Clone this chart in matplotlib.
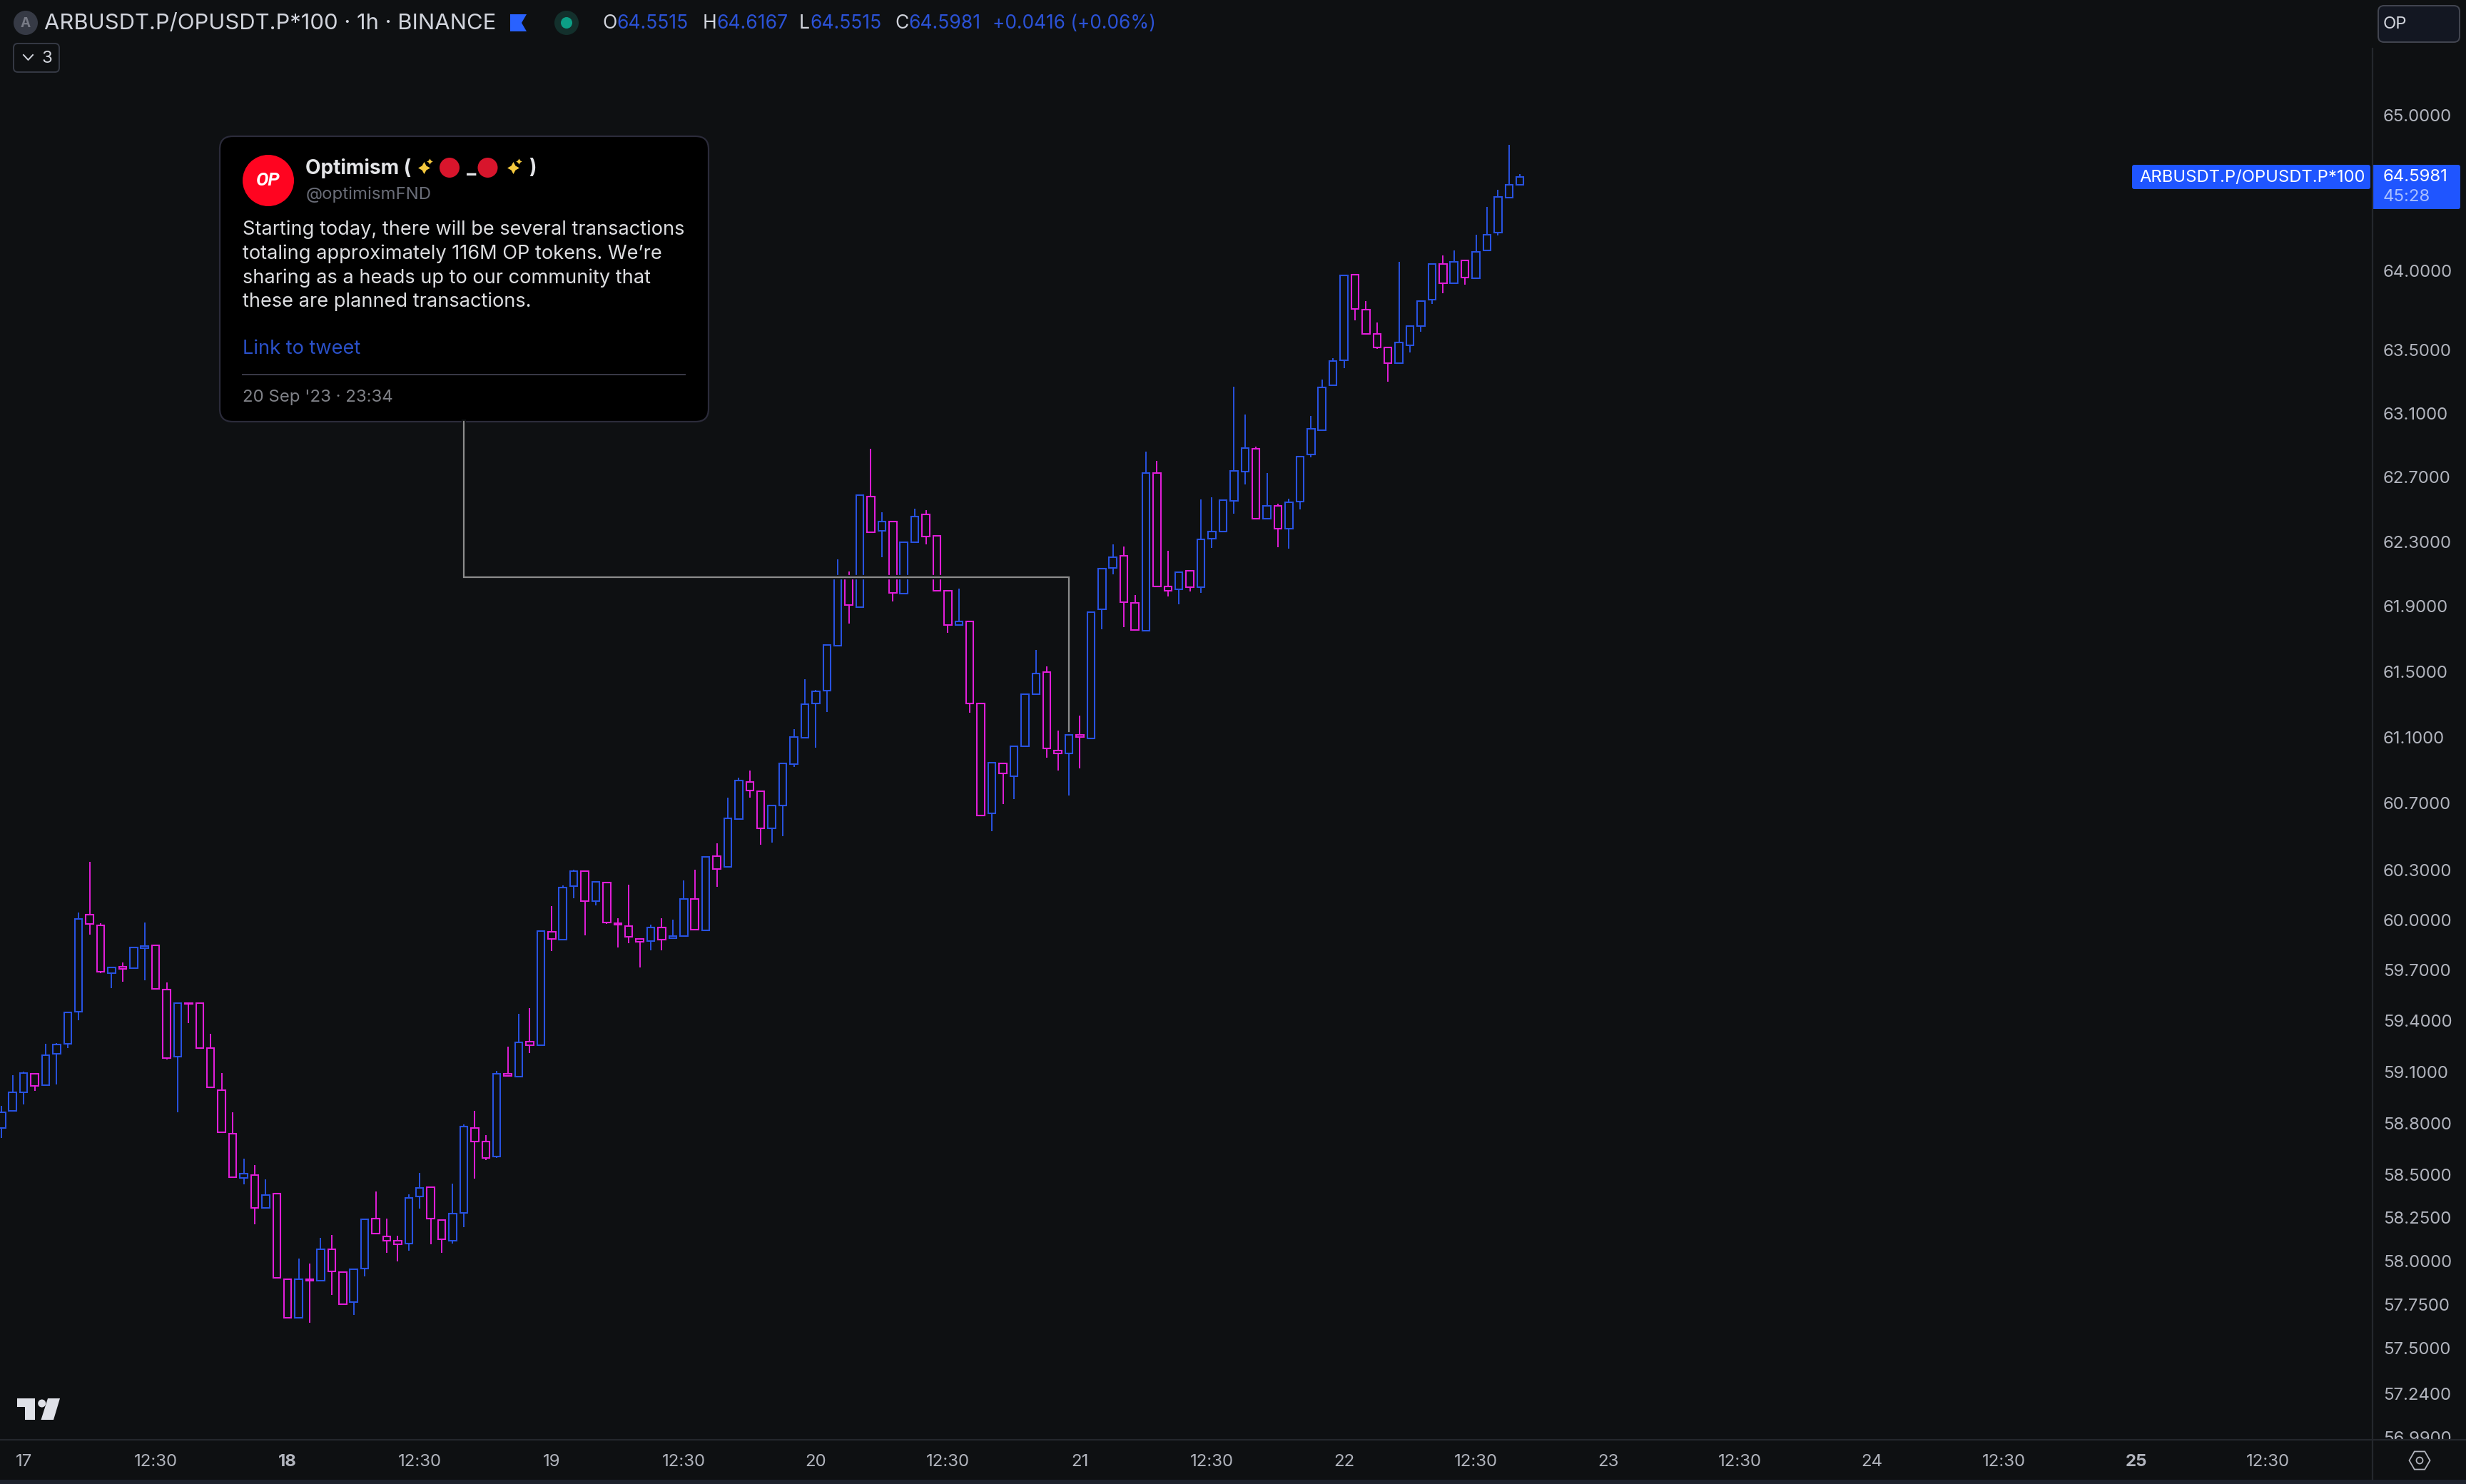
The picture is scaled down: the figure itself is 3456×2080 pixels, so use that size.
import matplotlib
matplotlib.use('Agg')
import matplotlib.pyplot as plt
from matplotlib.patches import Circle, FancyBboxPatch, Polygon, Rectangle
from matplotlib.ticker import NullLocator
import numpy as np

plt.rcParams['font.family'] = ['Inter', 'DejaVu Sans']

# 1h candles, first one is 16 Sep 22:00
opens = [58.772, 58.870, 58.980, 59.090, 59.022, 59.206, 59.265, 59.456, 60.029, 59.968,
         59.684, 59.722, 59.712, 59.830, 59.848, 59.587, 59.190, 59.506, 59.506, 59.240,
         58.994, 58.738, 58.480, 58.497, 58.304, 58.387, 57.892, 57.674, 57.892, 57.886,
         58.065, 57.933, 57.761, 57.956, 58.246, 58.141, 58.114, 58.100, 58.373, 58.427,
         58.236, 58.118, 58.278, 58.772, 58.693, 58.605, 59.090, 59.072, 59.279, 59.257,
         59.929, 59.882, 60.201, 60.293, 60.110, 60.224, 59.978, 59.963, 59.888, 59.872,
         59.955, 59.889, 59.903, 60.126, 59.936, 60.383, 60.315, 60.603, 60.829, 60.774,
         60.547, 60.688, 60.938, 61.095, 61.303, 61.383, 61.658, 62.085, 61.896, 62.580,
         62.366, 62.423, 61.977, 62.295, 62.467, 62.335, 61.994, 61.784, 61.808, 61.306,
         60.638, 60.942, 60.862, 61.044, 61.361, 61.498, 61.020, 61.001, 61.113, 61.091,
         61.884, 62.137, 62.214, 61.922, 61.752, 62.727, 62.023, 62.003, 62.120, 62.020,
         62.316, 62.361, 62.552, 62.733, 62.879, 62.440, 62.523, 62.379, 62.548, 62.843,
         62.992, 63.275, 63.431, 63.975, 63.755, 63.601, 63.515, 63.413, 63.530, 63.648,
         63.816, 64.043, 63.923, 64.067, 63.955, 64.128, 64.246, 64.468, 64.5515]
highs = [58.900, 59.082, 59.100, 59.090, 59.265, 59.271, 59.450, 60.043, 60.346, 59.980,
         59.716, 59.745, 59.836, 59.984, 59.848, 59.626, 59.506, 59.506, 59.506, 59.322,
         59.092, 58.863, 58.591, 58.553, 58.470, 58.387, 57.892, 58.015, 57.986, 58.134,
         58.151, 57.933, 57.952, 58.238, 58.401, 58.242, 58.143, 58.383, 58.507, 58.427,
         58.236, 58.446, 58.794, 58.870, 58.728, 59.104, 59.250, 59.440, 59.474, 59.939,
         60.084, 60.208, 60.299, 60.293, 60.228, 60.224, 60.008, 60.210, 59.888, 59.973,
         60.008, 60.000, 60.234, 60.302, 60.379, 60.457, 60.733, 60.856, 60.896, 60.774,
         60.687, 60.941, 61.150, 61.451, 61.386, 61.663, 62.191, 62.114, 62.590, 62.876,
         62.480, 62.423, 62.297, 62.506, 62.493, 62.340, 61.994, 62.010, 61.808, 61.306,
         60.947, 60.942, 61.046, 61.362, 61.630, 61.530, 61.139, 61.115, 61.231, 61.865,
         62.134, 62.282, 62.268, 61.969, 62.859, 62.804, 62.243, 62.112, 62.120, 62.560,
         62.573, 62.558, 63.265, 63.090, 62.889, 62.724, 62.533, 62.564, 62.828, 63.081,
         63.314, 63.445, 63.972, 63.975, 63.806, 63.670, 63.515, 64.057, 63.651, 63.808,
         64.045, 64.096, 64.132, 64.067, 64.228, 64.406, 64.520, 64.809, 64.6167]
lows = [58.714, 58.866, 58.908, 58.988, 59.022, 59.024, 59.238, 59.405, 59.913, 59.682,
        59.593, 59.630, 59.712, 59.640, 59.591, 59.172, 58.864, 59.389, 59.240, 59.010,
        58.746, 58.486, 58.442, 58.210, 58.304, 57.900, 57.674, 57.674, 57.643, 57.886,
        57.804, 57.745, 57.688, 57.909, 58.157, 58.045, 57.996, 58.057, 58.302, 58.096,
        58.045, 58.098, 58.193, 58.474, 58.583, 58.595, 59.076, 59.072, 59.212, 59.257,
        59.816, 59.882, 60.131, 59.908, 60.088, 59.977, 59.837, 59.862, 59.717, 59.820,
        59.817, 59.889, 59.903, 59.940, 59.936, 60.199, 60.315, 60.603, 60.734, 60.450,
        60.464, 60.502, 60.920, 61.095, 61.037, 61.254, 61.658, 61.792, 61.896, 62.357,
        62.201, 61.932, 61.977, 62.295, 62.284, 61.995, 61.739, 61.784, 61.247, 60.627,
        60.530, 60.696, 60.724, 61.044, 61.361, 60.977, 60.899, 60.746, 60.912, 61.091,
        61.761, 62.099, 61.774, 61.753, 61.744, 62.021, 61.963, 61.914, 61.990, 61.984,
        62.262, 62.361, 62.474, 62.656, 62.444, 62.440, 62.266, 62.257, 62.501, 62.825,
        62.992, 63.275, 63.384, 63.687, 63.602, 63.506, 63.298, 63.413, 63.484, 63.613,
        63.789, 63.858, 63.923, 63.913, 63.955, 64.128, 64.227, 64.468, 64.5515]
closes = [58.861, 58.978, 59.092, 59.018, 59.200, 59.263, 59.450, 60.006, 59.976, 59.692,
          59.716, 59.708, 59.836, 59.842, 59.591, 59.182, 59.506, 59.502, 59.240, 59.010,
          58.746, 58.486, 58.505, 58.304, 58.381, 57.900, 57.674, 57.892, 57.884, 58.065,
          57.937, 57.751, 57.952, 58.238, 58.157, 58.118, 58.096, 58.363, 58.423, 58.244,
          58.126, 58.274, 58.778, 58.693, 58.597, 59.090, 59.076, 59.275, 59.257, 59.933,
          59.886, 60.194, 60.293, 60.114, 60.228, 59.983, 59.972, 59.898, 59.868, 59.955,
          59.884, 59.904, 60.126, 59.940, 60.379, 60.306, 60.610, 60.838, 60.775, 60.547,
          60.687, 60.941, 61.099, 61.302, 61.377, 61.663, 62.088, 61.909, 62.590, 62.357,
          62.423, 61.982, 62.297, 62.456, 62.330, 61.995, 61.784, 61.808, 61.307, 60.627,
          60.947, 60.881, 61.046, 61.362, 61.490, 61.030, 61.001, 61.115, 61.099, 61.865,
          62.134, 62.201, 61.925, 61.753, 62.727, 62.021, 61.995, 62.112, 62.016, 62.315,
          62.364, 62.558, 62.740, 62.883, 62.444, 62.523, 62.379, 62.543, 62.828, 63.003,
          63.264, 63.430, 63.972, 63.756, 63.602, 63.516, 63.413, 63.547, 63.651, 63.808,
          64.045, 63.919, 64.058, 63.957, 64.122, 64.231, 64.473, 64.5515, 64.5981]

price_ticks = [65, 64, 63.5, 63.1, 62.7, 62.3, 61.9, 61.5, 61.1, 60.7, 60.3, 60, 59.7, 59.4,
               59.1, 58.8, 58.5, 58.25, 58, 57.75, 57.5, 57.24, 56.99]
time_ticks = list(range(0, 205, 12))
time_labels = ['17', '12:30', '18', '12:30', '19', '12:30', '20', '12:30', '21', '12:30',
               '22', '12:30', '23', '12:30', '24', '12:30', '25', '12:30']
bold_labels = ['18', '25']

W, H = 3456, 2080
BG = '#0e1012'
BLUE = '#2852e0'
MAGENTA = '#e01ed8'
SEP = '#24272d'
TEXT = '#b2b5be'


def pt(px):
    return px * 0.72


fig = plt.figure(figsize=(W / 100, H / 100), dpi=100, facecolor=BG)

# candle pane, log price scale
ax = fig.add_axes([0, 1 - 2018 / H, 3325 / W, 2018 / H], facecolor=BG)
hours = np.arange(len(opens)) - 2
o, h, l, c = map(np.array, (opens, highs, lows, closes))
colors = [BLUE if b >= a else MAGENTA for a, b in zip(o, c)]
ax.vlines(hours, l, h, colors=colors, lw=1.4, zorder=2)
ax.bar(hours, np.abs(c - o), bottom=np.minimum(o, c), width=0.68, facecolor=BG,
       edgecolor=colors, lw=1.5, zorder=3)
ax.set_yscale('log')
ax.set_xlim(-2.147, 213.48)
ax.set_ylim(56.977, 65.747)
ax.yaxis.tick_right()
ax.yaxis.set_minor_locator(NullLocator())
ax.set_yticks(price_ticks)
ax.set_yticklabels(['%.4f' % p for p in price_ticks], color=TEXT, fontsize=pt(24))
ax.tick_params(axis='y', length=0, pad=10.8)
ax.set_xticks([])
for s in ax.spines.values():
    s.set_visible(False)

# time axis strip, sits over the pane so it cuts the lowest price label
foot = fig.add_axes([0, 1 - 2074 / H, 1, 56 / H], facecolor=BG, zorder=5)
foot.set_xlim(-2.147, -2.147 + W / 15.42)
foot.set_ylim(0, 1)
foot.axis('off')
foot.add_patch(Rectangle((0, 0), 1, 1, transform=foot.transAxes, color=BG, zorder=0))
for t, lab in zip(time_ticks, time_labels):
    foot.text(t, 0.44, lab, ha='center', va='center', color=TEXT, fontsize=pt(24),
              fontweight='bold' if lab in bold_labels else 'normal')

# everything else is screen furniture, placed in pixels
ov = fig.add_axes([0, 0, 1, 1], zorder=10)
ov.set_xlim(0, W)
ov.set_ylim(H, 0)
ov.axis('off')
ov.patch.set_alpha(0)


def label(x, y, s, size, color='#d1d4dc', **kw):
    kw.setdefault('va', 'center')
    return ov.text(x, y + 2.5, s, fontsize=pt(size), color=color, **kw)


ov.plot([0, W], [2018, 2018], color=SEP, lw=1.6)
ov.add_patch(Rectangle((0, 2074), W, 6, color='#1c212b', lw=0))
ov.plot([3325, 3325], [68, 2074], color=SEP, lw=1.6)

# connector from the tweet card to its bar
conn_x = [650, 650, 1498, 1498]
conn_y = [591, 809, 809, 1025]
ov.plot(conn_x, conn_y, color=BG, lw=4.5, solid_joinstyle='miter')
ov.plot(conn_x, conn_y, color='#8c8c8c', lw=1.6, solid_joinstyle='miter')

# header
ov.add_patch(Circle((36, 32), 17, color='#363a45', lw=0))
label(36, 31, 'A', 19, '#787b86', ha='center', fontweight='bold')
label(62, 30, 'ARBUSDT.P/OPUSDT.P*100 · 1h · BINANCE', 31)
ov.add_patch(Polygon([(715, 20), (738, 20), (731, 32), (738, 44), (715, 44)], color='#2962ff', lw=0))
ov.add_patch(Circle((794, 32), 17, color='#13302c', lw=0))
ov.add_patch(Circle((794, 32), 8, color='#0c9f86', lw=0))
for x, letter, val in [(844, 'O', '64.5515'), (985, 'H', '64.6167'), (1120, 'L', '64.5515'), (1254, 'C', '64.5981')]:
    lt = label(x, 31, letter, 26.5)
    bb = lt.get_window_extent(fig.canvas.get_renderer())
    label(bb.x1, 31, val, 26.5, '#2b52d6')
label(1391, 31, '+0.0416 (+0.06%)', 26.3, '#2b52d6')

ov.add_patch(FancyBboxPatch((19, 61), 64, 40, boxstyle='round,pad=0,rounding_size=6', fc=BG, ec='#363a45', lw=1.4))
ov.plot([33, 39.5, 46], [77, 84, 77], color='#d1d4dc', lw=1.4)
label(59, 79, '3', 24)

# top right box and last price tags
ov.add_patch(FancyBboxPatch((3333, 8), 114, 51, boxstyle='round,pad=0,rounding_size=8', fc='#131722', ec='#434651', lw=1.4))
label(3340, 32, 'OP', 24)
ov.add_patch(FancyBboxPatch((2988, 231), 334, 34, boxstyle='round,pad=0,rounding_size=3', fc='#1f55ff', lw=0))
label(2998, 246, 'ARBUSDT.P/OPUSDT.P*100', 23.8, 'white')
ov.add_patch(FancyBboxPatch((3324, 231), 124, 62, boxstyle='round,pad=0,rounding_size=3', fc='#1f55ff', lw=0))
label(3340, 246, '64.5981', 24, 'white')
label(3340, 273, '45:28', 24, '#a9c0ff')

# tweet card
ov.add_patch(FancyBboxPatch((308, 191), 685, 400, boxstyle='round,pad=0,rounding_size=18', fc='black', ec='#2b2b3a', lw=1.6))
ov.add_patch(Circle((376, 253), 36, color='#ff0420', lw=0))
label(376, 251, 'OP', 26, 'white', ha='center', family='Roboto', fontweight='bold', style='italic')
label(428, 233, 'Optimism (', 28, '#e4e5e8', fontweight='bold')
ov.scatter([594, 719], [235, 235], marker=(4, 1, 0), s=150, color='#f5c93e', lw=0)
ov.scatter([602, 727], [226, 226], marker=(4, 1, 0), s=36, color='#f5c93e', lw=0)
ov.add_patch(Circle((630, 235), 14, color='#d8152c', lw=0))
ov.add_patch(Circle((683.5, 235), 14, color='#d8152c', lw=0))
label(661, 233, '_', 28, '#e4e5e8', ha='center', fontweight='bold')
label(746, 233, ')', 28, '#e4e5e8', ha='center', fontweight='bold')
label(429, 270, '@optimismFND', 24, '#6a6d78')
for y, line in [(319, 'Starting today, there will be several transactions'),
                (353, 'totaling approximately 116M OP tokens. We’re'),
                (387, 'sharing as a heads up to our community that'),
                (420, 'these are planned transactions.')]:
    label(340, y, line, 27.2, '#dcdde0')
label(340, 487, 'Link to tweet', 27.2, '#2a50c8')
ov.plot([340, 960], [525, 525], color='#3a3a48', lw=1.4)
label(340, 555, "20 Sep '23 · 23:34", 24, '#808288')

# tradingview mark
logo = '#dfe1e8'
ov.add_patch(Polygon([(24, 1960), (49, 1960), (49, 1990), (35, 1990), (35, 1972), (24, 1972)], color=logo, lw=0))
ov.add_patch(Circle((58.7, 1967), 5.5, color=logo, lw=0))
ov.add_patch(Polygon([(67, 1960), (84, 1960), (75, 1990), (57.5, 1990)], color=logo, lw=0))

# settings hexagon
ang = np.deg2rad(np.arange(0, 360, 60))
ov.add_patch(Polygon(np.c_[3391 + 14.5 * np.cos(ang), 2047 + 14.5 * np.sin(ang)], fc='none', ec='#b2b5be', lw=1.3))
ov.add_patch(Circle((3391, 2047), 4.5, fc='none', ec='#b2b5be', lw=1.3))

fig.savefig('out.png', dpi=100, facecolor=BG)
